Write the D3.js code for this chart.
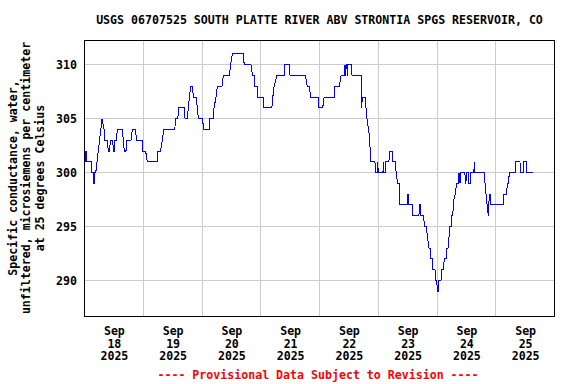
<!DOCTYPE html>
<html>
<head>
<meta charset="utf-8">
<script src="https://cdn.jsdelivr.net/npm/d3@7"></script>
<style>
  html, body { margin: 0; padding: 0; background: #fff; }
  svg text { font-family: "DejaVu Sans Mono", "Liberation Mono", monospace; font-weight: bold; font-size: 11.6px; }
</style>
</head>
<body>
<svg id="chart" width="576" height="384"></svg>
<script>
// ---- Data (hours since 2025-09-18 00:00, specific conductance µS/cm) ----
const titleText = "USGS 06707525 SOUTH PLATTE RIVER ABV STRONTIA SPGS RESERVOIR, CO";
const yLabelLines = ["Specific conductance, water,", "unfiltered, microsiemens per centimeter", "at 25 degrees Celsius"];
const footerText = "---- Provisional Data Subject to Revision ----";
const yTicks = [290, 295, 300, 305, 310];
const xDays = [18, 19, 20, 21, 22, 23, 24, 25];
const xMonth = "Sep";
const xYear = "2025";

const hours = [
  0, 0.24, 0.49, 0.77, 0.98, 2.77, 2.93, 3.59, 3.79, 4.03, 4.24, 4.60, 7.17, 7.99, 8.27, 9.33, 9.74, 10.31, 10.51, 11.53,
  11.78, 12.18, 12.47, 13.00, 13.41, 15.44, 15.85, 16.26, 16.95, 17.15, 18.99, 19.52, 20.74, 21.31, 23.59, 23.80, 24.98, 25.63, 29.70, 29.99,
  31.09, 32.43, 36.92, 37.12, 38.14, 38.42,
  40.68, 41.09, 41.91, 42.44, 42.84, 43.41, 44.07, 44.47, 45.57, 46.10, 46.51, 48.30, 48.55, 50.87, 51.07, 52.62, 52.91, 53.72, 54.25, 56.17,
  56.70, 59.14, 59.71, 60.36, 64.85, 65.25, 67.98, 68.68, 69.33, 69.61,
  70.65, 70.86, 73.10, 73.26, 76.52, 76.93, 77.46, 78.56, 81.53, 81.65, 83.69, 83.98, 90.21, 91.03, 91.84, 92.41, 95.59, 95.71, 97.30, 97.91,
  102.08, 102.24, 104.11, 104.81, 106.15, 106.44, 106.68, 106.93, 107.25, 107.41, 107.58, 109.09, 109.29, 112.96, 113.24, 113.49, 114.71, 115.00, 115.40, 116.34,
  116.75, 117.03, 118.66, 118.82, 119.68, 119.80, 119.97, 121.92, 122.08, 122.25, 123.02, 123.15, 124.37, 124.53, 125.71, 125.87, 127.01, 127.30, 127.91, 128.56,
  128.85,
  131.78, 131.94, 132.39, 132.55, 134.02, 134.18, 136.63, 136.83, 137.16, 137.40, 138.50, 138.91, 139.64, 140.13, 140.74, 141.27, 141.48, 142.17, 142.37, 143.19,
  143.39, 143.92, 144.13, 144.53, 144.82, 145.63, 145.92, 146.57, 146.98, 147.67, 148.08, 148.49, 148.89, 149.30, 149.83, 150.03, 150.40, 150.93, 151.46, 152.03,
  152.68, 152.89, 153.09, 153.29, 153.50, 153.70, 155.41, 155.58, 155.82, 155.98, 156.76, 156.92, 157.65, 157.82, 159.08, 159.20, 159.37,
  163.35, 163.63, 164.04, 164.45, 164.98, 165.38, 165.67, 165.96, 171.17, 171.37, 172.48, 172.68, 173.29, 173.49, 175.98, 176.18, 177.90, 178.10, 179.24, 179.44,
  180.54, 180.75, 183.07
];
const values = [
  302, 301, 302, 302, 301, 301, 300, 300, 299, 299, 300, 300, 305, 304, 303, 303, 302, 302, 303, 303,
  302, 302, 303, 303, 304, 304, 303, 302, 302, 303, 303, 304, 304, 303, 303, 302, 302, 301, 301, 302,
  302, 304, 304, 305, 305, 306,
  306, 305, 305, 306, 307, 308, 308, 307, 307, 306, 305, 305, 304, 304, 305, 305, 306, 307, 308, 308,
  309, 309, 310, 311, 311, 310, 310, 309, 309, 308,
  308, 307, 307, 306, 306, 307, 308, 309, 309, 310, 310, 309, 309, 308, 308, 307, 307, 306, 306, 307,
  307, 308, 308, 309, 309, 310, 309, 310, 310, 309, 310, 310, 309, 309, 306, 307, 307, 306, 305, 303.5,
  302, 301, 301, 300, 300, 301, 300, 300, 301, 300, 300, 301, 301, 302, 302, 301, 301, 300, 299, 299,
  297,
  297, 298, 298, 297, 297, 296, 296, 297, 297, 296, 296, 295, 295, 294, 293, 293, 292, 292, 291, 291,
  290, 290, 289, 289, 290, 290, 291, 291, 292, 292, 293, 293, 294, 295, 295, 296, 296, 297.5, 298, 299,
  299, 300, 299, 300, 299, 300, 300, 299, 299, 300, 300, 299, 299, 300, 300, 301, 300,
  300, 299, 298, 297, 296, 298, 298, 297, 297, 298, 298, 299, 299, 300, 300, 301, 301, 300, 300, 301,
  301, 300, 300
];

// ---- Chart ----
const svg = d3.select("#chart");
const start = new Date(2025, 8, 18, 0, 0);
const end = new Date(2025, 8, 26, 0, 0);
const x = d3.scaleTime().domain([start, end]).range([84.5, 554.5]);
const y = d3.scaleLinear().domain([286.66, 312.25]).range([316.5, 40.5]);

const data = hours.map((h, i) => ({ t: new Date(start.getTime() + h * 3600000), v: values[i] }));

// grid
const gridColor = "#cccccc";
const midnights = xDays.slice(1).map(d => new Date(2025, 8, d, 0, 0));
svg.append("g").selectAll("line").data(midnights).join("line")
  .attr("x1", d => Math.floor(x(d)) + 0.5).attr("x2", d => Math.floor(x(d)) + 0.5)
  .attr("y1", y.range()[1]).attr("y2", y.range()[0])
  .attr("stroke", gridColor).attr("stroke-width", 1).attr("shape-rendering", "crispEdges");
svg.append("g").selectAll("line").data(yTicks).join("line")
  .attr("x1", x.range()[0]).attr("x2", x.range()[1])
  .attr("y1", d => Math.floor(y(d)) + 0.5).attr("y2", d => Math.floor(y(d)) + 0.5)
  .attr("stroke", gridColor).attr("stroke-width", 1).attr("shape-rendering", "crispEdges");

// data line
const line = d3.line().x(d => x(d.t)).y(d => y(d.v));
svg.append("path").datum(data)
  .attr("d", line)
  .attr("fill", "none").attr("stroke", "#0000ff").attr("stroke-width", 1)
  .attr("shape-rendering", "crispEdges")
  .attr("stroke-linejoin", "miter");

// frame
svg.append("rect")
  .attr("x", 84.5).attr("y", 40.5).attr("width", 470).attr("height", 276)
  .attr("fill", "none").attr("stroke", "#000").attr("stroke-width", 1).attr("shape-rendering", "crispEdges");

// y axis labels
const yAxis = d3.axisLeft(y).tickValues(yTicks).tickSize(0).tickPadding(8).tickFormat(d3.format("d"));
const gy = svg.append("g").attr("transform", "translate(85,0)").call(yAxis);
gy.select(".domain").remove();
gy.selectAll("text").attr("fill", "#000").attr("dy", "0.35em")
  .style("font-family", '"DejaVu Sans Mono", monospace').style("font-weight", "bold").style("font-size", "11.6px");

// x axis labels (at noon of each day)
const noons = xDays.map(d => new Date(2025, 8, d, 12, 0));
const xAxis = d3.axisBottom(x).tickValues(noons).tickSize(0).tickFormat("");
const gx = svg.append("g").attr("transform", "translate(0,316)").call(xAxis);
gx.select(".domain").remove();
gx.selectAll(".tick text").each(function(d) {
  const t = d3.select(this).attr("y", 0).attr("dy", null).attr("fill", "#000")
    .style("font-family", '"DejaVu Sans Mono", monospace').style("font-weight", "bold").style("font-size", "11.6px");
  t.text(null);
  t.append("tspan").attr("x", 0).attr("y", 19).text(xMonth);
  t.append("tspan").attr("x", 0).attr("y", 31.6).text(String(d.getDate()));
  t.append("tspan").attr("x", 0).attr("y", 44.2).text(xYear);
});

// title
svg.append("text").attr("x", 319.5).attr("y", 23.5).attr("text-anchor", "middle").attr("fill", "#000").text(titleText);

// y label
const yl = svg.append("text").attr("transform", "translate(0,178) rotate(-90)").attr("text-anchor", "middle").attr("fill", "#000");
yLabelLines.forEach((s, i) => {
  yl.append("tspan").attr("x", 0).attr("y", 16.5 + i * 13.5).text(s);
});

// footer
svg.append("text").attr("x", 318).attr("y", 379).attr("text-anchor", "middle").attr("fill", "#ff0000").text(footerText);
</script>
</body>
</html>
